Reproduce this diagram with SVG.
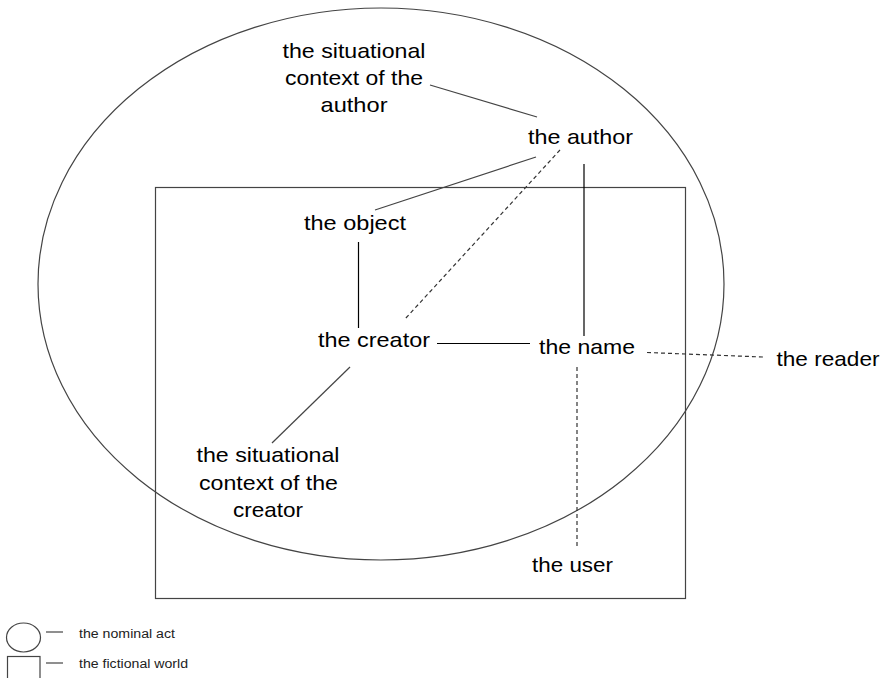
<svg xmlns="http://www.w3.org/2000/svg" width="887" height="678" viewBox="0 0 887 678">
<style>
.t{font-family:"Liberation Sans",Arial,sans-serif;font-size:21px;fill:#000;text-anchor:middle}
.lg{font-family:"Liberation Sans",Arial,sans-serif;font-size:12.5px;fill:#222}
.s{stroke:#000;stroke-width:1.2;fill:none}
.g{stroke:#444;stroke-width:1.2;fill:none}
.d{stroke:#333;stroke-width:1.2;fill:none;stroke-dasharray:4 3}
</style>
<rect width="887" height="678" fill="#fff"/>
<g id="nominal-act"><ellipse cx="381" cy="284" rx="343" ry="276" class="g"/></g>
<g id="fictional-world"><rect x="155.5" y="187.5" width="530" height="411" class="g"/></g>
<g id="connectors">
<line x1="430" y1="85" x2="537" y2="117" class="g"/>
<line x1="536" y1="157" x2="375" y2="210" class="g"/>
<line x1="560" y1="150" x2="405" y2="319" class="d"/>
<line x1="584" y1="164" x2="584" y2="336" class="s"/>
<line x1="358.5" y1="242" x2="358.5" y2="328" class="s"/>
<line x1="437" y1="343.5" x2="530" y2="343.5" class="s"/>
<line x1="647" y1="352.5" x2="763" y2="357" class="d"/>
<line x1="577" y1="367" x2="577" y2="548" class="d"/>
<line x1="350" y1="367" x2="272" y2="443" class="g"/>
</g>
<g id="context-author"><text class="t" x="354" y="58" textLength="143" lengthAdjust="spacingAndGlyphs">the situational</text><text class="t" x="354" y="85" textLength="138" lengthAdjust="spacingAndGlyphs">context of the</text><text class="t" x="354" y="112" textLength="67" lengthAdjust="spacingAndGlyphs">author</text></g>
<g id="author"><text class="t" x="580.5" y="144" textLength="105" lengthAdjust="spacingAndGlyphs">the author</text></g>
<g id="object"><text class="t" x="355" y="230" textLength="102" lengthAdjust="spacingAndGlyphs">the object</text></g>
<g id="creator"><text class="t" x="374" y="347" textLength="112" lengthAdjust="spacingAndGlyphs">the creator</text></g>
<g id="name"><text class="t" x="587" y="354" textLength="96" lengthAdjust="spacingAndGlyphs">the name</text></g>
<g id="reader"><text class="t" x="828" y="366" textLength="103" lengthAdjust="spacingAndGlyphs">the reader</text></g>
<g id="context-creator"><text class="t" x="268" y="462" textLength="143" lengthAdjust="spacingAndGlyphs">the situational</text><text class="t" x="268.5" y="490" textLength="139" lengthAdjust="spacingAndGlyphs">context of the</text><text class="t" x="268" y="517" textLength="70" lengthAdjust="spacingAndGlyphs">creator</text></g>
<g id="user"><text class="t" x="572.5" y="572" textLength="81" lengthAdjust="spacingAndGlyphs">the user</text></g>
<g id="legend">
<ellipse cx="23.5" cy="637.5" rx="17" ry="14.5" class="g"/>
<line x1="46" y1="632" x2="63" y2="632" class="g"/>
<text class="lg" x="79" y="638" textLength="96" lengthAdjust="spacingAndGlyphs">the nominal act</text>
<rect x="7.5" y="656.5" width="32.5" height="24" class="g"/>
<line x1="46" y1="663" x2="63" y2="663" class="g"/>
<text class="lg" x="79" y="668" textLength="109" lengthAdjust="spacingAndGlyphs">the fictional world</text>
</g>
</svg>
